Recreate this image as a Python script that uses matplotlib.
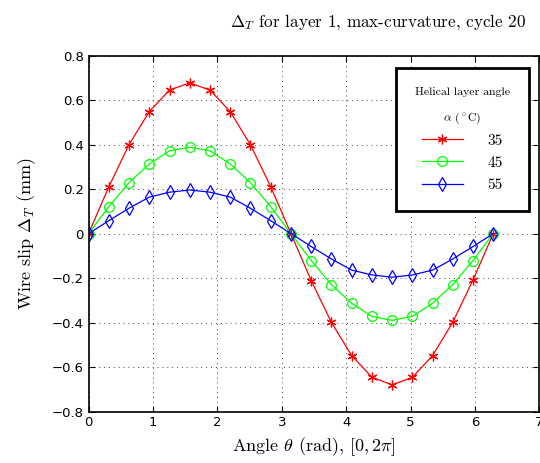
import numpy as np
import matplotlib
matplotlib.use('Agg')
import matplotlib.pyplot as plt

plt.rcParams['mathtext.fontset'] = 'cm'
plt.rcParams['font.family'] = 'DejaVu Sans'

theta = np.arange(21) * 2 * np.pi / 20

slip_35 = [0, 0.21, 0.40, 0.548, 0.645, 0.677, 0.645, 0.548, 0.399, 0.211, 0,
           -0.211, -0.399, -0.548, -0.645, -0.68, -0.646, -0.548, -0.398, -0.208, 0]
slip_45 = [0, 0.121, 0.229, 0.313, 0.372, 0.388, 0.372, 0.313, 0.229, 0.121, 0,
           -0.121, -0.229, -0.313, -0.372, -0.39, -0.372, -0.313, -0.229, -0.121, 0]
slip_55 = [0, 0.058, 0.114, 0.164, 0.186, 0.196, 0.186, 0.164, 0.114, 0.058, 0,
           -0.058, -0.114, -0.164, -0.186, -0.196, -0.186, -0.164, -0.114, -0.058, 0]
angle_labels = ['35', '45', '55']

fig = plt.figure(figsize=(5.4, 4.63), dpi=100)
ax = fig.add_axes([0.164, 0.111, 0.835, 0.769])

ax.plot(theta, slip_35, '-', marker=(6, 2, 0), color='red', lw=0.9, ms=7, mew=0.9,
        label=angle_labels[0])
ax.plot(theta, slip_45, '-o', color=(0, 1, 0), lw=0.9, ms=7, mfc='none', mew=0.9,
        label=angle_labels[1])
ax.plot(theta, slip_55, '-d', color='blue', lw=0.9, ms=7.5, mfc='none', mew=0.9,
        label=angle_labels[2])

ax.set_xlim(0, 7)
ax.set_ylim(-0.8, 0.8)
ax.set_xticks(range(0, 8))
ax.set_yticks(np.arange(-0.8, 0.81, 0.2))
ax.set_yticklabels(['\u22120.8', '\u22120.6', '\u22120.4', '\u22120.2', '0', '0.2', '0.4', '0.6', '0.8'])
ax.tick_params(direction='in', top=True, right=True, labelsize=9.5, length=4)
ax.grid(True, linestyle=(0, (1, 4)), color='#444444', lw=0.7)
for s in ax.spines.values():
    s.set_linewidth(1.2)

ax.set_xlabel(r'Angle $\theta$ (rad), $[0,2\pi]$', fontsize=13, fontname='cmr10', labelpad=4)
ax.set_ylabel(r'Wire slip $\Delta_T$ (mm)', fontsize=13, fontname='cmr10', labelpad=10)
fig.text(0.70, 0.952, r'$\Delta_T$ for layer 1, max-curvature, cycle 20', fontsize=12.3,
         fontname='cmr10', ha='center', va='center')

leg = ax.legend(loc='upper left', bbox_to_anchor=(0.681, 0.965),
                title='Helical layer angle\n' + r'$\alpha$ ($^\circ$C)',
                fancybox=False, edgecolor='black', framealpha=1,
                prop={'family': 'cmr10', 'size': 11}, handlelength=2.7,
                borderpad=1.25, labelspacing=0.55, handletextpad=1.6,
                borderaxespad=0)
leg.get_title().set_fontname('cmr10')
leg.get_title().set_fontsize(8.5)
leg.get_title().set_linespacing(2.3)
leg.get_title().set_multialignment('center')
leg.get_frame().set_linewidth(2)
leg.set_zorder(5)

fig.savefig('out.png', dpi=100)
